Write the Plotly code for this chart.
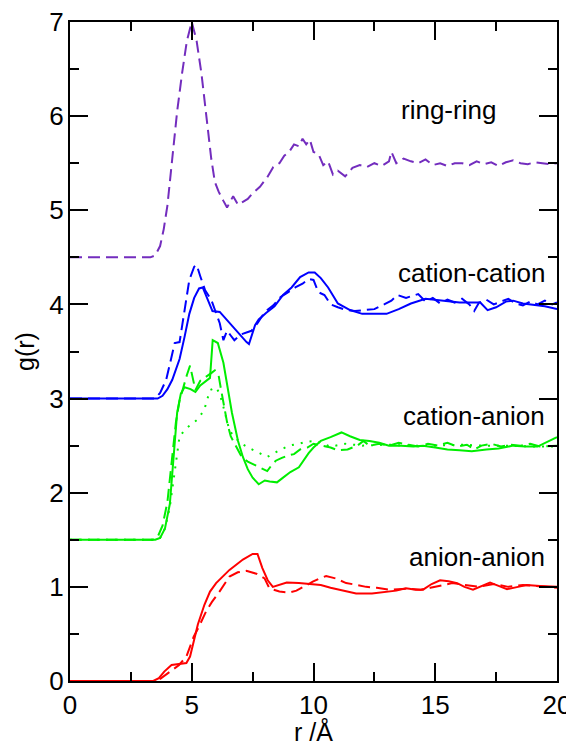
import plotly.graph_objects as go

# ---------------- data ----------------
ring_x = [0, 3.3, 3.5, 3.7, 3.85, 4.0, 4.2, 4.4, 4.6, 4.8, 5.0, 5.2, 5.4, 5.6, 5.8, 5.95, 6.1, 6.3, 6.45,
          6.7, 6.9, 7.1, 7.3, 7.5, 7.8, 8.1, 8.35, 8.6, 8.8, 9.0, 9.2, 9.4, 9.55, 9.7, 9.85, 10.0, 10.2,
          10.4, 10.6, 10.8, 11.0, 11.3, 11.6, 11.9, 12.2, 12.5, 12.8, 13.1, 13.2, 13.4, 13.7, 14.0, 14.3,
          14.6, 14.9, 15.2, 15.5, 15.8, 16.1, 16.4, 16.7, 17.0, 17.3, 17.6, 17.9, 18.2, 18.5, 18.8, 19.1,
          19.4, 19.7, 20.0]
ring_dash = [4.5, 4.5, 4.52, 4.62, 4.8, 5.05, 5.55, 6.05, 6.45, 6.8, 7.0, 6.8, 6.45, 6.0, 5.55, 5.3, 5.2,
             5.1, 5.03, 5.15, 5.06, 5.09, 5.12, 5.18, 5.25, 5.35, 5.46, 5.5, 5.58, 5.62, 5.7, 5.68, 5.76,
             5.7, 5.75, 5.62, 5.6, 5.48, 5.52, 5.38, 5.42, 5.36, 5.45, 5.48, 5.46, 5.5, 5.47, 5.52, 5.62,
             5.5, 5.55, 5.52, 5.5, 5.54, 5.48, 5.5, 5.47, 5.5, 5.5, 5.48, 5.52, 5.49, 5.51, 5.47, 5.51,
             5.53, 5.5, 5.49, 5.51, 5.5, 5.49, 5.5]

cc_solid_x = [0, 3.6, 3.8, 4.0, 4.2, 4.5, 4.7, 4.9, 5.1, 5.3, 5.45, 5.65, 5.85, 6.15, 6.55, 6.95, 7.25,
              7.35, 7.6, 7.75, 8.05, 8.4, 8.75, 9.1, 9.45, 9.8, 10.05, 10.3, 10.6, 11.0, 11.5, 12.0,
              12.5, 13.0, 13.5, 14.0, 14.6, 15.0, 15.5, 16.0, 16.5, 16.85, 17.15, 17.5, 17.9, 18.2,
              18.6, 19.0, 19.5, 20.0]
cc_solid = [3.0, 3.0, 3.03, 3.1, 3.2, 3.42, 3.65, 3.9, 4.07, 4.17, 4.18, 4.06, 3.93, 3.92, 3.8, 3.69,
            3.6, 3.58, 3.78, 3.84, 3.91, 3.98, 4.1, 4.18, 4.29, 4.34, 4.34, 4.28, 4.18, 4.01, 3.94,
            3.9, 3.9, 3.9, 3.95, 4.01, 4.06, 4.05, 4.03, 4.02, 4.02, 4.02, 3.94, 3.97, 4.03, 4.04,
            4.01, 4.0, 3.98, 3.95]

cc_dash_x = [0, 3.5, 3.7, 3.95, 4.15, 4.3, 4.5, 4.7, 4.9, 5.1, 5.2, 5.35, 5.55, 5.8, 6.0, 6.15, 6.3,
             6.45, 6.6, 6.75, 7.0, 7.2, 7.45, 7.7, 8.0, 8.35, 8.65, 8.9, 9.25, 9.55, 9.8, 10.0, 10.2,
             10.45, 10.7, 11.0, 11.35, 11.7, 12.1, 12.5, 12.9, 13.2, 13.45, 13.8, 14.3, 14.6, 14.9,
             15.2, 15.5, 15.8, 16.1, 16.4, 16.6, 16.8, 17.1, 17.4, 17.7, 18.0, 18.3, 18.6, 18.9,
             19.2, 19.5, 19.8, 20.0]
cc_dash = [3.0, 3.0, 3.06, 3.2, 3.42, 3.59, 3.6, 3.91, 4.26, 4.4, 4.42, 4.3, 4.15, 4.05, 3.9, 3.8,
           3.62, 3.72, 3.67, 3.62, 3.68, 3.7, 3.72, 3.8, 3.92, 3.99, 4.08, 4.12, 4.18, 4.22, 4.27,
           4.26, 4.13, 4.1, 4.0, 3.97, 3.94, 3.93, 3.94, 3.95, 4.0, 4.04, 4.1, 4.07, 4.11, 4.03,
           4.07, 4.01, 4.05, 4.02, 4.06, 4.0, 3.93, 4.02, 4.05, 4.0, 4.03, 4.06, 4.01, 3.99, 4.03,
           4.0, 4.04, 4.0, 4.02]

ca_solid_x = [0, 3.5, 3.7, 3.9, 4.1, 4.3, 4.4, 4.55, 4.7, 4.95, 5.15, 5.35, 5.6, 5.75, 5.86, 6.07,
              6.3, 6.45, 6.65, 6.9, 7.1, 7.3, 7.5, 7.75, 8.0, 8.2, 8.5, 8.75, 9.05, 9.4, 9.6, 9.8,
              10.0, 10.3, 10.7, 11.15, 11.5, 11.9, 12.3, 12.7, 13.1, 13.6, 14.1, 14.5, 15.0, 15.5,
              16.0, 16.5, 17.1, 17.6, 18.2, 18.7, 19.2, 19.6, 20.0]
ca_solid = [1.5, 1.5, 1.52, 1.62, 1.88, 2.5, 2.85, 3.05, 3.12, 3.1, 3.07, 3.14, 3.19, 3.22, 3.62,
            3.59, 3.38, 3.16, 2.85, 2.55, 2.38, 2.25, 2.16, 2.09, 2.13, 2.12, 2.11, 2.16, 2.22,
            2.27, 2.35, 2.42, 2.48, 2.55, 2.59, 2.64, 2.6, 2.56, 2.55, 2.53, 2.5, 2.5, 2.49, 2.5,
            2.48, 2.46, 2.45, 2.44, 2.46, 2.47, 2.5, 2.49, 2.49, 2.54, 2.59]

ca_dash_x = [0, 3.4, 3.6, 3.8, 4.0, 4.2, 4.35, 4.5, 4.65, 4.8, 4.93, 5.05, 5.15, 5.35, 5.6, 5.8,
             5.95, 6.1, 6.2, 6.3, 6.45, 6.6, 6.8, 7.05, 7.3, 7.55, 7.8, 8.1, 8.3, 8.45, 8.7, 9.0,
             9.2, 9.45, 9.75, 10.0, 10.35, 10.7, 11.0, 11.4, 11.8, 12.05, 12.3, 12.7, 13.1, 13.5,
             13.9, 14.3, 14.7, 15.1, 15.5, 15.9, 16.3, 16.6, 16.9, 17.3, 17.7, 18.1, 18.5, 18.9,
             19.3, 19.7, 20.0]
ca_dash = [1.5, 1.5, 1.53, 1.65, 1.9, 2.35, 2.75, 2.98, 3.12, 3.25, 3.35, 3.2, 3.09, 3.19, 3.23,
           3.27, 3.3, 3.25, 3.1, 2.94, 2.75, 2.6, 2.5, 2.38, 2.33, 2.3, 2.27, 2.23, 2.3, 2.34,
           2.37, 2.4, 2.41, 2.46, 2.48, 2.52, 2.5, 2.48, 2.45, 2.46, 2.5, 2.55, 2.5, 2.52, 2.5,
           2.53, 2.51, 2.49, 2.52, 2.5, 2.53, 2.49, 2.51, 2.46, 2.5, 2.52, 2.49, 2.51, 2.5, 2.52,
           2.49, 2.5, 2.5]

ca_dot_x = [0, 3.5, 3.7, 3.9, 4.1, 4.3, 4.5, 4.8, 5.2, 5.5, 5.75, 6.0, 6.15, 6.3, 6.55, 6.8, 7.05,
            7.4, 7.7, 8.1, 8.6, 9.0, 9.4, 9.7, 10.1, 10.7, 11.3, 12.0, 13.0, 14.0, 15.0, 16.0,
            17.0, 18.0, 19.0, 20.0]
ca_dot = [1.5, 1.5, 1.52, 1.62, 1.85, 2.25, 2.6, 2.69, 2.77, 2.87, 3.09, 3.12, 3.05, 2.91, 2.66,
          2.58, 2.52, 2.47, 2.43, 2.38, 2.45, 2.5, 2.52, 2.54, 2.55, 2.49, 2.52, 2.5, 2.51, 2.5,
          2.5, 2.51, 2.5, 2.5, 2.49, 2.49]

aa_solid_x = [0, 3.42, 3.65, 3.87, 4.17, 4.48, 4.78, 4.93, 5.1, 5.25, 5.52, 5.75, 6.0, 6.3, 6.55,
              6.8, 7.1, 7.5, 7.7, 7.9, 8.12, 8.33, 8.6, 8.9, 9.4, 9.9, 10.3, 10.7, 11.2, 11.75,
              12.4, 13.0, 13.4, 13.8, 14.2, 14.5, 14.85, 15.2, 15.55, 15.9, 16.2, 16.55, 16.9,
              17.25, 17.6, 17.95, 18.4, 18.75, 19.3, 20.0]
aa_solid = [0, 0, 0.03, 0.1, 0.17, 0.18, 0.19, 0.26, 0.45, 0.6, 0.81, 0.95, 1.04, 1.12, 1.18,
            1.23, 1.29, 1.35, 1.35, 1.2, 1.07, 1.0, 1.02, 1.045, 1.04, 1.03, 1.02, 0.99, 0.96,
            0.93, 0.93, 0.95, 0.96, 0.985, 0.97, 0.97, 1.03, 1.07, 1.06, 1.04, 1.0, 0.97, 1.01,
            1.045, 1.01, 0.975, 1.0, 1.02, 1.01, 1.0]

aa_dash_x = [0, 3.5, 3.72, 3.95, 4.17, 4.48, 4.78, 5.08, 5.3, 5.59, 5.83, 6.14, 6.55, 6.89, 7.24,
             7.65, 7.99, 8.19, 8.6, 9.01, 9.3, 9.56, 9.97, 10.25, 10.52, 10.9, 11.34, 11.8,
             12.16, 12.6, 13.12, 13.8, 14.4, 14.8, 15.17, 15.7, 16.2, 16.8, 17.4, 18.0, 18.6,
             19.2, 19.6, 20.0]
aa_dash = [0, 0, 0.025, 0.07, 0.11, 0.17, 0.26, 0.47, 0.58, 0.74, 0.84, 0.95, 1.11, 1.155, 1.17,
           1.14, 1.09, 0.985, 0.95, 0.94, 0.96, 1.0, 1.055, 1.09, 1.115, 1.09, 1.04, 1.02, 1.0,
           0.99, 0.97, 0.98, 0.97, 0.99, 1.01, 1.04, 1.02, 1.0, 1.03, 1.0, 1.02, 1.01, 1.0, 0.99]

labels = ["ring-ring", "cation-cation", "cation-anion", "anion-anion"]
label_x = [17.58, 19.59, 19.59, 19.59]
label_y = [6.07, 4.33, 2.81, 1.32]

PURPLE = "rgb(115,45,190)"
BLUE = "#0000FF"
GREEN = "#00EE00"
RED = "#FF0000"
DASH = "12px,6px"
DOT = "2px,7px"
FONT = "Liberation Sans, Arial, sans-serif"

fig = go.Figure()

def add(x, y, color, dash):
    fig.add_trace(go.Scatter(x=x, y=y, mode="lines",
                             line=dict(color=color, width=2, dash=dash),
                             showlegend=False, hoverinfo="skip"))

add(ring_x, ring_dash, PURPLE, DASH)
add(cc_solid_x, cc_solid, BLUE, "solid")
add(cc_dash_x, cc_dash, BLUE, DASH)
add(ca_solid_x, ca_solid, GREEN, "solid")
add(ca_dash_x, ca_dash, GREEN, DASH)
add(ca_dot_x, ca_dot, GREEN, DOT)
add(aa_solid_x, aa_solid, RED, "solid")
add(aa_dash_x, aa_dash, RED, DASH)

for t, xv, yv in zip(labels, label_x, label_y):
    fig.add_annotation(x=xv, y=yv, text=t, showarrow=False, xanchor="right", yanchor="middle",
                       font=dict(family=FONT, size=26, color="black"))

axis_common = dict(
    showgrid=False, zeroline=False, showline=True, linecolor="black", linewidth=2,
    mirror="ticks", ticks="inside", ticklen=18, tickwidth=1.5, tickcolor="black",
    tickfont=dict(family=FONT, size=26, color="black"), automargin=False,
    ticklabeloverflow="allow",
)

fig.update_xaxes(range=[0, 20], dtick=5, tick0=0,
                 minor=dict(dtick=2.5, ticks="inside", ticklen=9, tickwidth=1.5, tickcolor="black"),
                 title=dict(text="r /Å", font=dict(family=FONT, size=25, color="black"), standoff=8),
                 **axis_common)
fig.update_yaxes(range=[0, 7], dtick=1, tick0=0, ticklabelstandoff=-1,
                 minor=dict(dtick=0.5, ticks="inside", ticklen=9, tickwidth=1.5, tickcolor="black"),
                 title=dict(text="g(r)", font=dict(family=FONT, size=25, color="black"), standoff=8),
                 **axis_common)

# page body has an 8px margin, so the figure is sized/placed to compensate
fig.update_layout(width=566, height=738, margin=dict(l=62, r=17, t=14, b=65),
                  plot_bgcolor="white", paper_bgcolor="white")

fig.write_html("out.html")
